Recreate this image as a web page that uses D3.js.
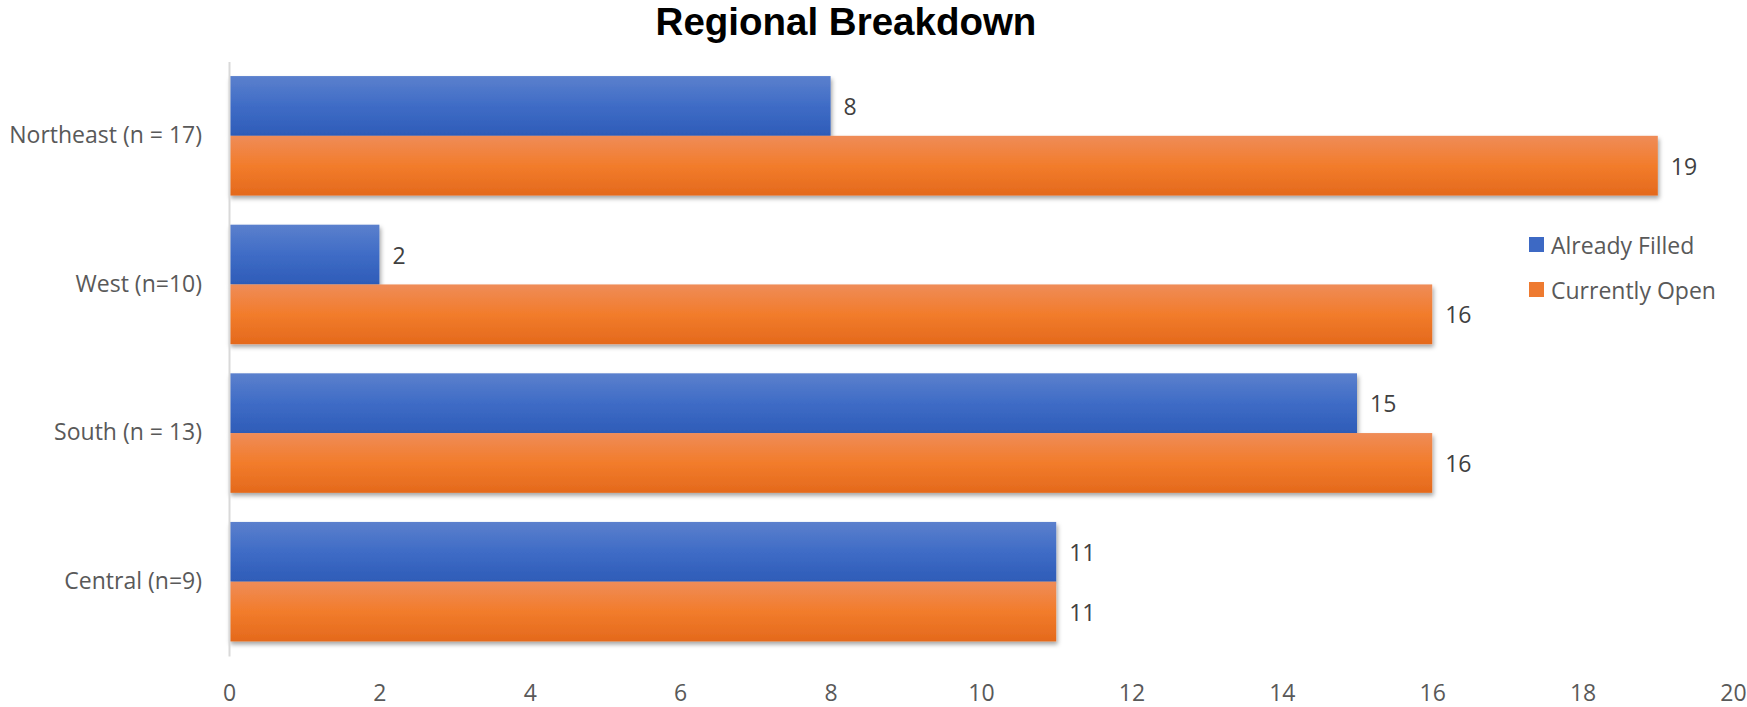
<!DOCTYPE html>
<html>
<head>
<meta charset="utf-8">
<script src="https://cdn.jsdelivr.net/npm/d3@7"></script>
<style>
  html, body { margin: 0; padding: 0; background: #ffffff; }
  svg { display: block; }
</style>
</head>
<body>
<svg id="chart" width="1747" height="707"></svg>
<script>
const categories = ["Northeast (n = 17)", "West (n=10)", "South (n = 13)", "Central (n=9)"];
const seriesNames = ["Already Filled", "Currently Open"];
const alreadyFilled = [8, 2, 15, 11];
const currentlyOpen = [19, 16, 16, 11];
const tickValues = [0, 2, 4, 6, 8, 10, 12, 14, 16, 18, 20];
const titleText = "Regional Breakdown";

const W = 1747, H = 707;
const margin = { left: 229, right: 14, top: 61.5, bottom: 51 };
const svg = d3.select("#chart");

const defs = svg.append("defs");
const gradBlue = defs.append("linearGradient").attr("id", "gBlue").attr("x1", 0).attr("y1", 0).attr("x2", 0).attr("y2", 1);
gradBlue.append("stop").attr("offset", "0%").attr("stop-color", "#5b80cd");
gradBlue.append("stop").attr("offset", "50%").attr("stop-color", "#3f6cc6");
gradBlue.append("stop").attr("offset", "100%").attr("stop-color", "#2e5cb8");
const gradOrange = defs.append("linearGradient").attr("id", "gOrange").attr("x1", 0).attr("y1", 0).attr("x2", 0).attr("y2", 1);
gradOrange.append("stop").attr("offset", "0%").attr("stop-color", "#ef8c58");
gradOrange.append("stop").attr("offset", "50%").attr("stop-color", "#f27c2b");
gradOrange.append("stop").attr("offset", "100%").attr("stop-color", "#e4691c");
const shadow = defs.append("filter").attr("id", "shadow").attr("x", "-5%").attr("y", "-20%").attr("width", "115%").attr("height", "150%");
shadow.append("feDropShadow").attr("dx", 1.5).attr("dy", 3).attr("stdDeviation", 2).attr("flood-color", "#000").attr("flood-opacity", 0.35);

const fills = { "Already Filled": "url(#gBlue)", "Currently Open": "url(#gOrange)" };
const legendFills = { "Already Filled": "#3d69c4", "Currently Open": "#ee7a30" };

const x = d3.scaleLinear().domain([tickValues[0], tickValues[tickValues.length - 1]]).range([margin.left, W - margin.right]);
const y = d3.scaleBand().domain(categories).range([margin.top, H - margin.bottom]).paddingInner(0.196).paddingOuter(0.098);
const ySub = d3.scaleBand().domain(seriesNames).range([0, y.bandwidth()]).padding(0);

const rows = categories.map((c, i) => ({ cat: c, values: [
  { key: "Already Filled", value: alreadyFilled[i] },
  { key: "Currently Open", value: currentlyOpen[i] }
]}));

// Title
svg.append("text")
  .attr("x", 846).attr("y", 35)
  .attr("text-anchor", "middle")
  .attr("font-family", "'Liberation Sans', Arial, sans-serif")
  .attr("font-weight", "bold")
  .attr("font-size", 38.5)
  .attr("fill", "#000")
  .text(titleText);

// Bars
const groups = svg.append("g").selectAll("g").data(rows).join("g")
  .attr("transform", d => `translate(0,${y(d.cat)})`);
groups.selectAll("rect").data(d => d.values).join("rect")
  .attr("x", x(0))
  .attr("y", d => ySub(d.key))
  .attr("width", d => x(d.value) - x(0))
  .attr("height", ySub.bandwidth())
  .attr("fill", d => fills[d.key])
  .attr("filter", "url(#shadow)");
groups.selectAll("text").data(d => d.values).join("text")
  .attr("x", d => x(d.value) + 13)
  .attr("y", d => ySub(d.key) + ySub.bandwidth() / 2)
  .attr("dominant-baseline", "central")
  .attr("font-family", "'Open Sans', sans-serif")
  .attr("font-size", 23)
  .attr("fill", "#404040")
  .text(d => d.value);

// Y axis
const yAxis = svg.append("g").attr("transform", `translate(${x(0)},0)`)
  .call(d3.axisLeft(y).tickSize(0).tickSizeOuter(0).tickPadding(27));
yAxis.select(".domain").attr("stroke", "#d9d9d9").attr("stroke-width", 2);
yAxis.selectAll("text")
  .attr("font-family", "'Open Sans', sans-serif")
  .attr("font-size", 23)
  .attr("fill", "#595959");

// X axis (labels only)
const xAxis = svg.append("g").attr("transform", `translate(0,${H - margin.bottom})`)
  .call(d3.axisBottom(x).tickValues(tickValues).tickSize(0).tickPadding(29));
xAxis.select(".domain").remove();
xAxis.selectAll("text")
  .attr("font-family", "'Open Sans', sans-serif")
  .attr("font-size", 23)
  .attr("fill", "#595959");

// Legend
const legend = svg.append("g").selectAll("g").data(seriesNames).join("g")
  .attr("transform", (d, i) => `translate(1529,${237 + i * 45})`);
legend.append("rect").attr("width", 15).attr("height", 15).attr("fill", d => legendFills[d]);
legend.append("text")
  .attr("x", 22).attr("y", 7.5)
  .attr("dominant-baseline", "central")
  .attr("font-family", "'Open Sans', sans-serif")
  .attr("font-size", 23)
  .attr("fill", "#595959")
  .text(d => d);
</script>
</body>
</html>
